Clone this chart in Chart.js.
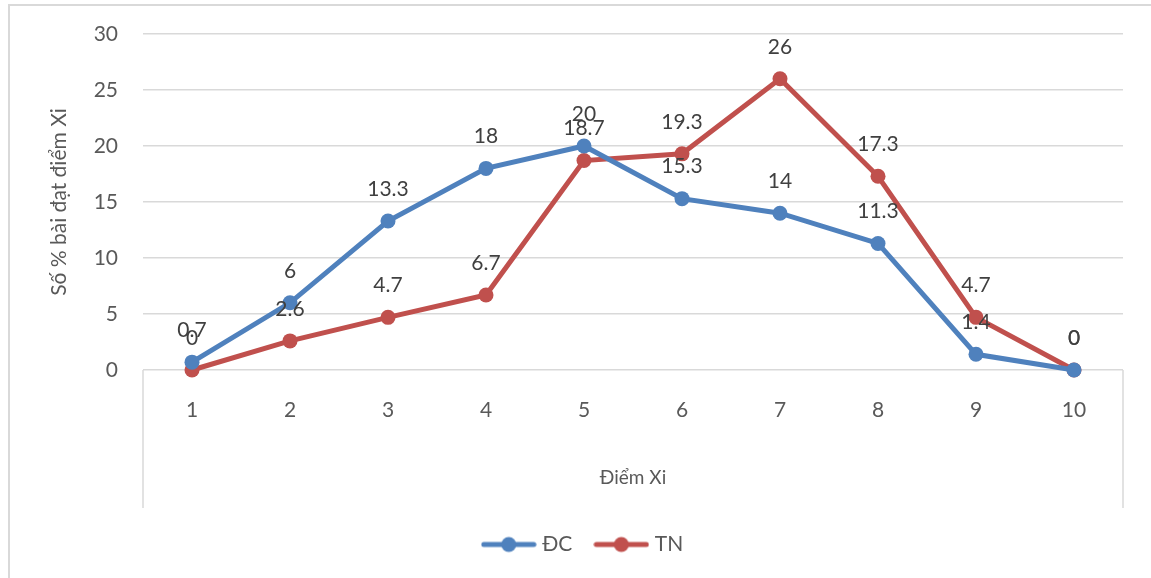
<!DOCTYPE html>
<html>
<head>
<meta charset="utf-8">
<script src="https://cdn.jsdelivr.net/npm/chart.js@4.4.1/dist/chart.umd.min.js"></script>
<style>
  html, body { margin: 0; padding: 0; background: #ffffff; }
  #wrap { width: 1151px; height: 578px; position: relative; }
</style>
</head>
<body>
<div id="wrap"><canvas id="chart"></canvas></div>
<script>
// Score categories (Điểm Xi)
const categories = ['1', '2', '3', '4', '5', '6', '7', '8', '9', '10'];
// Percentage of tests per score, control group
const dcValues = [0.7, 6, 13.3, 18, 20, 15.3, 14, 11.3, 1.4, 0];
// Percentage of tests per score, experimental group
const tnValues = [0, 2.6, 4.7, 6.7, 18.7, 19.3, 26, 17.3, 4.7, 0];
const seriesNames = ['ĐC', 'TN'];
const yMin = 0, yMax = 30, yStep = 5;

const BLUE = '#4F81BD';
const RED = '#C0504D';
const FONT = 'Lato, "Open Sans", sans-serif';

// Legend symbol: short line with a round marker through it
function legendSymbol(color) {
  const c = document.createElement('canvas');
  c.width = 56; c.height = 18;
  const g = c.getContext('2d');
  g.strokeStyle = color; g.lineWidth = 5; g.lineCap = 'round';
  g.beginPath(); g.moveTo(3, 9); g.lineTo(53, 9); g.stroke();
  g.fillStyle = color;
  g.beginPath(); g.arc(28, 9, 7.5, 0, Math.PI * 2); g.fill();
  return c;
}
const symbols = [legendSymbol(BLUE), legendSymbol(RED)];

// Value labels above each point
const valueLabels = {
  id: 'valueLabels',
  afterDatasetsDraw(chart) {
    const ctx = chart.ctx;
    ctx.save();
    ctx.font = '21px ' + FONT;
    ctx.fillStyle = '#404040';
    ctx.textAlign = 'center';
    ctx.textBaseline = 'middle';
    chart.data.datasets.forEach((ds, i) => {
      const meta = chart.getDatasetMeta(i);
      meta.data.forEach((pt, j) => {
        ctx.fillText(String(ds.data[j]), pt.x, pt.y - 32);
      });
    });
    ctx.restore();
  }
};

// Outer frame and the category-axis box sides
const frame = {
  id: 'frame',
  beforeDraw(chart) {
    const ctx = chart.ctx;
    const area = chart.chartArea;
    const xs = chart.scales.x;
    ctx.save();
    ctx.strokeStyle = '#D9D9D9';
    ctx.lineWidth = 2;
    ctx.beginPath();
    ctx.moveTo(9, chart.height);
    ctx.lineTo(9, 5);
    ctx.lineTo(chart.width, 5);
    ctx.stroke();
    ctx.lineWidth = 1.5;
    ctx.beginPath();
    ctx.moveTo(area.left, area.bottom);
    ctx.lineTo(area.left, xs.bottom);
    ctx.moveTo(area.right, area.bottom);
    ctx.lineTo(area.right, xs.bottom);
    ctx.stroke();
    ctx.restore();
  }
};

const lineStyle = (color) => ({
  borderColor: color, backgroundColor: color,
  borderWidth: 5, pointRadius: 7.5, pointHoverRadius: 7.5,
  pointBackgroundColor: color, pointBorderColor: color, pointBorderWidth: 0,
  tension: 0, pointStyle: 'circle', clip: false
});

new Chart(document.getElementById('chart'), {
  type: 'line',
  data: {
    labels: categories,
    datasets: [
      Object.assign({ label: seriesNames[0], data: dcValues }, lineStyle(BLUE)),
      Object.assign({ label: seriesNames[1], data: tnValues }, lineStyle(RED))
    ]
  },
  options: {
    responsive: true,
    maintainAspectRatio: false,
    animation: false,
    events: [],
    layout: { padding: { top: 34, right: 28, bottom: 13, left: 46 } },
    plugins: {
      tooltip: { enabled: false },
      legend: {
        position: 'bottom',
        labels: {
          usePointStyle: true,
          pointStyleWidth: 46,
          padding: 26,
          color: '#595959',
          font: { family: FONT, size: 21 },
          generateLabels(chart) {
            return chart.data.datasets.map((ds, i) => ({
              text: ds.label,
              pointStyle: symbols[i],
              fillStyle: ds.borderColor,
              strokeStyle: ds.borderColor,
              lineWidth: 0,
              fontColor: '#595959',
              hidden: false,
              datasetIndex: i
            }));
          }
        }
      }
    },
    scales: {
      x: {
        offset: true,
        grid: { display: false, drawTicks: false },
        border: { display: false },
        ticks: { color: '#595959', font: { family: FONT, size: 21 }, padding: 28, maxRotation: 0 },
        title: {
          display: true, text: 'Điểm Xi', color: '#595959',
          font: { family: FONT, size: 19 }, padding: { top: 0, bottom: 19 }
        },
        afterFit(scale) { scale.height = 138; }
      },
      y: {
        min: yMin, max: yMax,
        ticks: { stepSize: yStep, color: '#595959', font: { family: FONT, size: 21 }, padding: 25 },
        grid: { color: '#D9D9D9', lineWidth: 1.5, drawTicks: false },
        border: { display: false },
        title: {
          display: true, text: 'Số % bài đạt điểm Xi', color: '#595959',
          font: { family: FONT, size: 21 }, padding: { top: 1, bottom: 0 }
        },
        afterFit(scale) {
          scale.width = 97;
          // the end labels fit inside the layout padding
          scale.paddingTop = 0;
          scale.paddingBottom = 0;
        }
      }
    }
  },
  plugins: [frame, valueLabels]
});
</script>
</body>
</html>
